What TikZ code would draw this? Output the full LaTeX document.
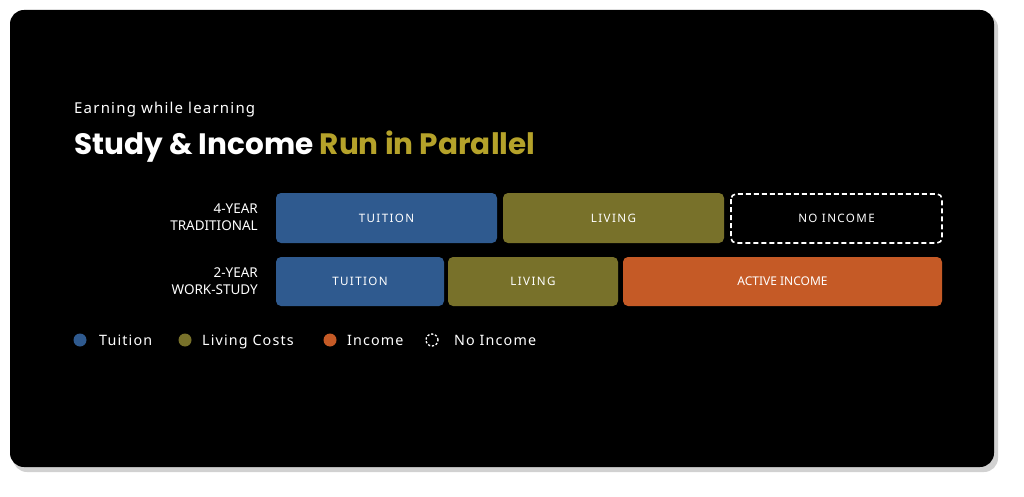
\documentclass[tikz,border=0pt]{standalone}
\usepackage{fontspec}
\setmainfont{Noto Sans}
\newfontfamily\titlefont{Poppins}[UprightFont=* SemiBold,BoldFont=* Bold]
\definecolor{tui}{HTML}{2F5A8F}
\definecolor{liv}{HTML}{78712A}
\definecolor{inc}{HTML}{C55A26}
\definecolor{gold}{HTML}{B5A22A}
\begin{document}
\begin{tikzpicture}[x=1pt,y=-1pt,
  bar/.style={rounded corners=5pt},
  bt/.style={text=white,font=\fontsize{11.6}{13}\selectfont\addfontfeature{LetterSpace=12}},
  lbl/.style={anchor=east,align=right,text=white,inner sep=0,font=\fontsize{13.5}{16.5}\selectfont},
  leg/.style={anchor=base west,inner sep=0,text=white,font=\fontsize{14.3}{16}\selectfont\addfontfeature{LetterSpace=8}},
  dot/.style={circle,inner sep=0,minimum size=13pt}]
\useasboundingbox (0,0) rectangle (1024,497);
\fill[white] (0,0) rectangle (1024,497);
\fill[black!18,rounded corners=14pt] (13,14) rectangle (998,472);
\fill[black,rounded corners=14pt] (10,10) rectangle (994,467);
\node[anchor=base west,text=white,inner sep=0,font=\fontsize{15}{17}\selectfont\addfontfeature{LetterSpace=8}] (sub) at (74,114) {Earning while learning};
\node[anchor=base west,text=white,inner sep=0,font=\titlefont\bfseries\fontsize{29.5}{32}\selectfont] (ttl) at (74,155) {Study \& Income \textcolor{gold}{Run in Parallel}};
% row 1
\path[bar,fill=tui] (276,193) rectangle node[bt] (t1) {TUITION} (497,243);
\path[bar,fill=liv] (503,193) rectangle node[bt] (l1) {LIVING} (724,243);
\draw[white,line width=1.6pt,dash pattern=on 5pt off 3pt,rounded corners=5pt] (731,194) rectangle node[bt] (n1) {NO INCOME} (942,243);
\node[lbl] (r1) at (258,217) {4-YEAR\\TRADITIONAL};
% row 2
\path[bar,fill=tui] (276,257) rectangle node[bt] (t2) {TUITION} (444,306);
\path[bar,fill=liv] (448,257) rectangle node[bt] (l2) {LIVING} (618,306);
\path[bar,fill=inc] (623,257) rectangle node[text=white,font=\fontsize{12}{14}\selectfont] (a2) {ACTIVE INCOME} (942,306);
\node[lbl] (r2) at (258,281) {2-YEAR\\WORK-STUDY};
% legend
\node[dot,fill=tui] (d1) at (80,340) {};
\node[leg] at (99,345) {Tuition};
\node[dot,fill=liv] (d2) at (185,340) {};
\node[leg] at (202,345) {Living Costs};
\node[dot,fill=inc] (d3) at (330,340) {};
\node[leg] at (347,345) {Income};
\node[dot,draw=white,line width=1.3pt,dash pattern=on 2.2pt off 1.8pt,minimum size=12pt] (d4) at (432,340) {};
\node[leg] at (454,345) {No Income};
\end{tikzpicture}
\end{document}
